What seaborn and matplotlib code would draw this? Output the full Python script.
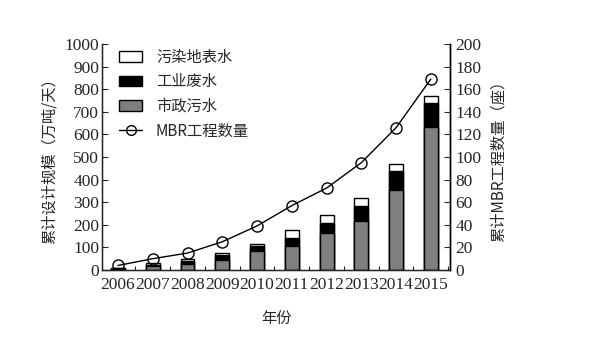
import numpy as np
import pandas as pd
import matplotlib
matplotlib.use("Agg")
import matplotlib.pyplot as plt
import seaborn as sns
from matplotlib.patches import Patch
from matplotlib.lines import Line2D

years = ["2006", "2007", "2008", "2009", "2010", "2011", "2012", "2013", "2014", "2015"]
municipal = [6, 17, 25, 46, 85, 108, 163, 219, 352, 633]
industrial = [3, 6, 17, 20, 20, 34, 46, 66, 85, 107]
surface = [2, 10, 8, 8, 10, 34, 33, 34, 33, 29]
mbr_count = [4, 10, 15, 25, 39, 57, 72.5, 95, 126, 169]

legend_labels = ["污染地表水", "工业废水", "市政污水", "MBR工程数量"]
left_label = "累计设计规模（万吨/天）"
right_label = "累计MBR工程数量（座）"
x_label = "年份"

sns.set_style("white")
plt.rcParams["font.family"] = ["Liberation Serif", "Noto Sans CJK SC"]
cjk = ["Noto Sans CJK SC", "DejaVu Sans"]

df = pd.DataFrame({"year": years, "muni": municipal, "ind": industrial, "surf": surface})
df["mi"] = df["muni"] + df["ind"]
df["total"] = df["mi"] + df["surf"]

fig = plt.figure(figsize=(5.89, 3.40), dpi=100)
ax = fig.add_axes([102 / 589, 1 - 270 / 340, (450 - 102) / 589, (270 - 44) / 340])

w = 0.4
sns.barplot(data=df, x="year", y="total", color="white", edgecolor="black", linewidth=1.0, width=w, ax=ax, saturation=1)
sns.barplot(data=df, x="year", y="mi", color="black", edgecolor="black", linewidth=1.0, width=w, ax=ax, saturation=1)
sns.barplot(data=df, x="year", y="muni", color="#7f7f7f", edgecolor="black", linewidth=1.0, width=w, ax=ax, saturation=1)

ax.set_xlim(-0.46, 9.55)
ax.set_ylim(0, 1000)
ax.set_yticks(np.arange(0, 1001, 100))
ax.set_xticks(np.arange(10))
ax.set_xticks(np.arange(10) + 0.5, minor=True)
ax.tick_params(axis="x", which="major", length=0, labelsize=12.5, pad=5)
ax.tick_params(axis="x", which="minor", direction="in", length=3, width=0.8, bottom=True)
ax.tick_params(axis="y", direction="in", length=4, width=0.8, labelsize=12.5, left=True, pad=2)
ax.set_xlabel(x_label, family=cjk, fontsize=11, labelpad=12)
ax.set_ylabel(left_label, family=cjk, fontsize=11, labelpad=5)
for s in ["left", "bottom", "right"]:
    ax.spines[s].set_color("black")
    ax.spines[s].set_linewidth(1.0)
ax.spines["top"].set_visible(False)

ax2 = ax.twinx()
sns.lineplot(x=np.arange(10), y=mbr_count, ax=ax2, color="black", linewidth=1.0,
             marker="o", markersize=8, markerfacecolor="none", markeredgecolor="black", markeredgewidth=1.0)
ax2.set_ylim(0, 200)
ax2.set_yticks(np.arange(0, 201, 20))
ax2.tick_params(axis="y", direction="in", length=4, width=0.8, labelsize=12.5, right=True, pad=4)
ax2.set_ylabel(right_label, family=cjk, fontsize=11, labelpad=6)
ax2.spines["top"].set_visible(False)
ax2.spines["right"].set_color("black")
ax2.spines["right"].set_linewidth(1.0)
ax2.set_xlim(-0.46, 9.55)

handles = [
    Patch(facecolor="white", edgecolor="black", linewidth=1.0),
    Patch(facecolor="black", edgecolor="black", linewidth=1.0),
    Patch(facecolor="#7f7f7f", edgecolor="black", linewidth=1.0),
    Line2D([0], [0], color="black", linewidth=1.0, marker="o", markersize=7, markerfacecolor="none"),
]
leg = ax2.legend(handles, legend_labels, loc="upper left", bbox_to_anchor=(0.01, 1.04), frameon=False,
                 prop={"family": cjk, "size": 11}, handlelength=1.5, labelspacing=0.5, handletextpad=0.9)

fig.savefig("out.png", dpi=100)
